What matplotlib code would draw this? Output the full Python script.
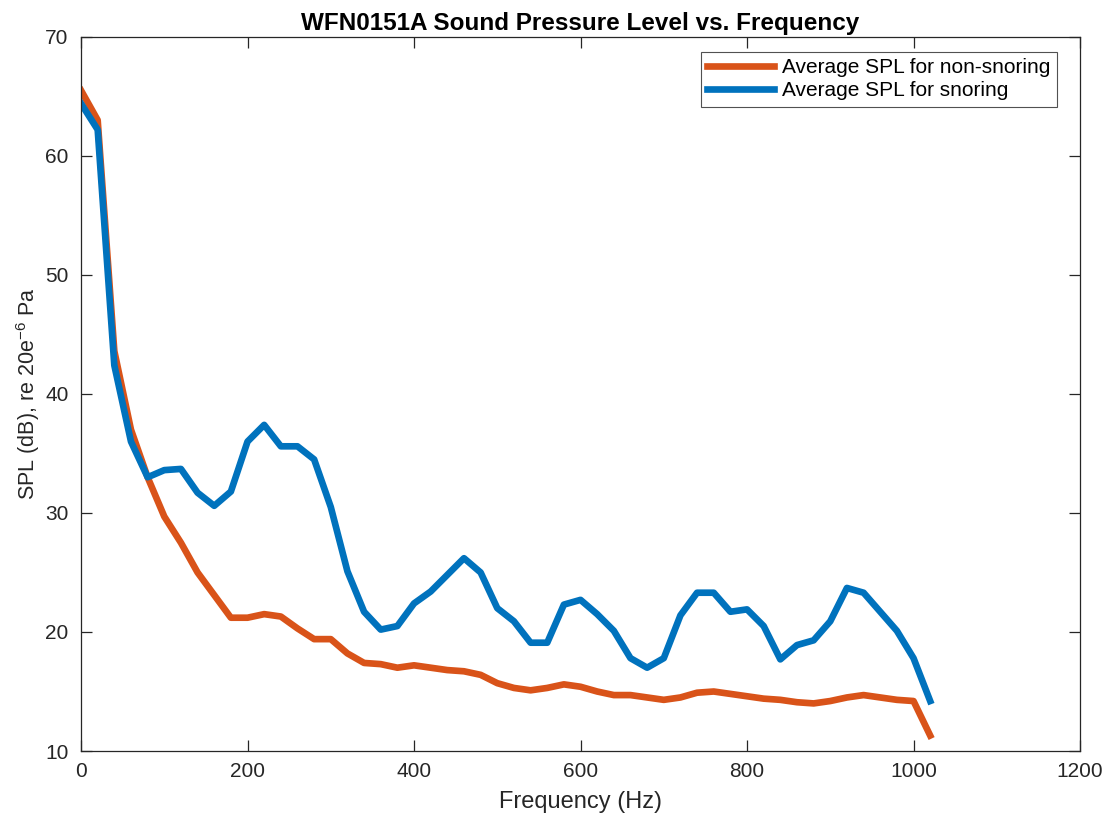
import numpy as np
import matplotlib
matplotlib.use("Agg")
import matplotlib.pyplot as plt

# frequency bins (Hz)
freq = np.arange(0, 1021, 20)

# average SPL, non-snoring
spl_non = [65.5, 63.0, 43.6, 37.0, 33.0, 29.7, 27.5, 25.0, 23.1, 21.2,
           21.2, 21.5, 21.3, 20.3, 19.4, 19.4, 18.2, 17.4, 17.3, 17.0,
           17.2, 17.0, 16.8, 16.7, 16.4, 15.7, 15.3, 15.1, 15.3, 15.6,
           15.4, 15.0, 14.7, 14.7, 14.5, 14.3, 14.5, 14.9, 15.0, 14.8,
           14.6, 14.4, 14.3, 14.1, 14.0, 14.2, 14.5, 14.7, 14.5, 14.3,
           14.2, 11.3]

# average SPL, snoring
spl_snore = [64.4, 62.2, 42.4, 36.0, 33.0, 33.6, 33.7, 31.7, 30.6, 31.8,
             36.0, 37.4, 35.6, 35.6, 34.5, 30.5, 25.1, 21.7, 20.2, 20.5,
             22.4, 23.4, 24.8, 26.2, 25.0, 22.0, 20.9, 19.1, 19.1, 22.3,
             22.7, 21.5, 20.1, 17.8, 17.0, 17.8, 21.4, 23.3, 23.3, 21.7,
             21.9, 20.5, 17.7, 18.9, 19.3, 20.9, 23.7, 23.3, 21.7, 20.1,
             17.8, 14.2]

plt.rcParams['font.family'] = ['Liberation Sans', 'DejaVu Sans']
plt.rcParams['mathtext.fontset'] = 'custom'
plt.rcParams['mathtext.rm'] = 'Liberation Sans'
plt.rcParams['mathtext.it'] = 'Liberation Sans'

fig = plt.figure(figsize=(11.1, 8.19), dpi=100)
ax = fig.add_axes([0.073, 0.083, 0.9, 0.872])

ax.plot(freq, spl_non, color='#D95319', lw=4.8, label='Average SPL for non-snoring')
ax.plot(freq, spl_snore, color='#0072BD', lw=4.8, label='Average SPL for snoring')

ax.set_xlim(0, 1200)
ax.set_ylim(10, 70)
ax.set_xticks(range(0, 1201, 200))
ax.set_yticks(range(10, 71, 10))

dark = '#262626'
for s in ax.spines.values():
    s.set_color(dark)
    s.set_linewidth(0.9)
ax.tick_params(direction='in', length=8, width=0.9, colors=dark,
               labelsize=15, top=True, right=True)
ax.tick_params(axis='x', pad=8)
ax.tick_params(axis='y', pad=9)

ax.set_xlabel('Frequency (Hz)', fontsize=17, color=dark, labelpad=7)
ax.set_ylabel('SPL (dB), re 20e$^{\\mathregular{-6}}$ Pa', fontsize=15.5,
              color=dark, labelpad=2)
ax.set_title('WFN0151A Sound Pressure Level vs. Frequency', fontsize=17.5,
             fontweight='bold', color='black', pad=5)

leg = ax.legend(loc='upper right', bbox_to_anchor=(0.977, 0.979), fontsize=15,
                handlelength=3.2, frameon=True, fancybox=False, borderpad=0.3,
                labelspacing=0.2, handletextpad=0.4, borderaxespad=0)
leg.get_frame().set_edgecolor(dark)
leg.get_frame().set_linewidth(0.8)

fig.savefig('out.png', dpi=100)
